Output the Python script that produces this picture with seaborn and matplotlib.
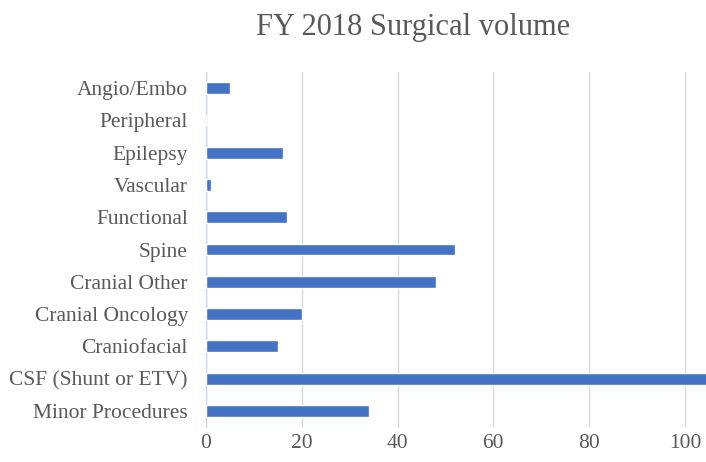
import matplotlib
matplotlib.use("Agg")
import matplotlib.pyplot as plt
import seaborn as sns
import pandas as pd

categories = ["Angio/Embo", "Peripheral", "Epilepsy", "Vascular", "Functional", "Spine",
              "Cranial Other", "Cranial Oncology", "Craniofacial", "CSF (Shunt or ETV)",
              "Minor Procedures"]
values = [5, 0, 16, 1, 17, 52, 48, 20, 15, 110, 34]
xticks = [0, 20, 40, 60, 80, 100]

sns.set_theme(style="white")
plt.rcParams['font.family'] = ['Liberation Serif', 'DejaVu Serif']

df = pd.DataFrame({"category": categories, "value": values})

fig = plt.figure(figsize=(7.06, 4.62), dpi=100)
ax = fig.add_axes([206/706, 1 - 427/462, 1 - 206/706, (427 - 72)/462])
sns.barplot(data=df, y="category", x="value", orient="h", color="#4472C4",
            saturation=1, width=0.37, ax=ax, zorder=3)
ax.set_xlim(0, 104.4)
ax.set_xticks(xticks)
ax.set_xticklabels([str(t) for t in xticks])
ax.grid(axis="x", color="#d9d9d9", linewidth=1, zorder=0)
ax.set_axisbelow(True)
for s in ["top", "right", "bottom"]:
    ax.spines[s].set_visible(False)
ax.spines["left"].set_color("#d0d8e4")
ax.spines["left"].set_linewidth(1)
ax.tick_params(axis="both", length=0, labelsize=15.5, colors="#595959")
ax.tick_params(axis="y", pad=13)
ax.tick_params(axis="x", pad=5)
ax.set_xlabel("")
ax.set_ylabel("")
fig.text(413/706, 1 - 27/462, "FY 2018 Surgical volume", ha="center", va="center",
         fontsize=22, color="#595959")
fig.savefig("out.png", dpi=100)
